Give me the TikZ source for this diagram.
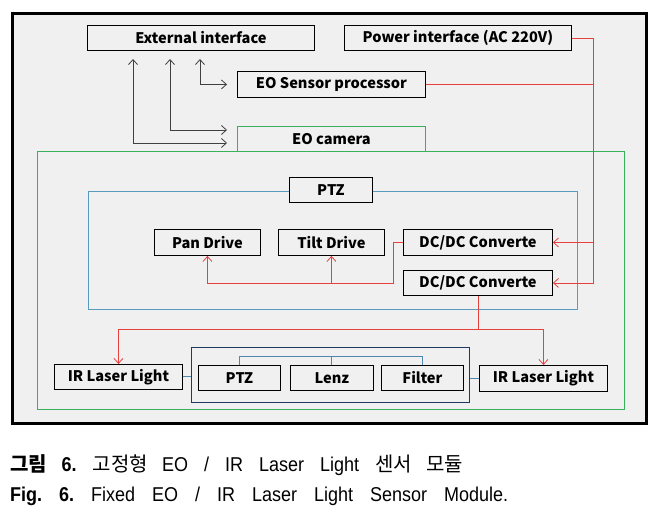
\documentclass[tikz,border=0pt]{standalone}
\usepackage{fontspec}
\usetikzlibrary{arrows.meta,calc}
\setmainfont{Liberation Sans}
\frenchspacing
\newfontfamily\cjk{Noto Sans CJK KR}
\newfontfamily\capfont[FakeStretch=0.9]{Liberation Sans}
\newfontfamily\capcjk{Noto Sans CJK KR}
\definecolor{bg}{HTML}{F0F0F0}
\definecolor{lred}{HTML}{E8403C}
\definecolor{lgreen}{HTML}{3AAF5C}
\definecolor{lblue}{HTML}{5A9CBE}
\definecolor{dblue}{HTML}{1F3864}
\definecolor{lgray}{HTML}{404040}
\tikzset{
  box/.style={draw=black, fill=bg, line width=0.9pt, inner sep=0pt, anchor=north west,
    font=\cjk\bfseries\fontsize{14.6}{16}\selectfont},
  redline/.style={draw=lred, line width=0.8pt},
  grayline/.style={draw=lgray, line width=0.8pt},
  bluecon/.style={draw=lblue!80!dblue, line width=1pt},
  tip/.style={-{Straight Barb[length=5pt,width=9pt]}},
  dtip/.style={{Straight Barb[length=5pt,width=9pt]}-{Straight Barb[length=5pt,width=9pt]}},
}
\begin{document}
\begin{tikzpicture}[x=1pt,y=-1pt]
\useasboundingbox (0,0) rectangle (665,508);
\fill[white] (0,0) rectangle (665,508);
% outer frame
\node[draw=black, fill=bg, line width=2.6pt, minimum width=634pt, minimum height=410pt, anchor=north west] (frame) at (11,12) {};
% top boxes
\node[box, minimum width=227pt, minimum height=25pt] (ext) at (87,25) {External interface};
\node[box, minimum width=227pt, minimum height=25pt] (pow) at (344,25) {Power interface (AC 220V)};
\node[box, minimum width=188pt, minimum height=26pt] (eosp) at (237,71) {EO Sensor processor};
\node[box, draw=lgreen, minimum width=188pt, minimum height=25pt] (eocam) at (237,126) {EO camera};
% big green box
\node[draw=lgreen, fill=bg, line width=0.9pt, minimum width=587pt, minimum height=258pt, anchor=north west] (green) at (37,151) {};
% PTZ region
\node[draw=lblue, line width=0.9pt, minimum width=489pt, minimum height=118pt, anchor=north west] (ptzreg) at (88,191) {};
\node[box, minimum width=83pt, minimum height=25pt] (ptz) at (289,177) {PTZ};
\node[box, minimum width=106pt, minimum height=26pt] (pan) at (154,229) {Pan Drive};
\node[box, minimum width=106pt, minimum height=26pt] (tilt) at (278,229) {Tilt Drive};
\node[box, minimum width=149pt, minimum height=26pt] (dc1) at (403,229) {DC/DC Converte};
\node[box, minimum width=149pt, minimum height=25pt] (dc2) at (403,270) {DC/DC Converte};
% bottom row
\node[box, minimum width=128pt, minimum height=25pt] (irl) at (54,364) {IR Laser Light};
\node[draw=dblue, line width=0.9pt, minimum width=278pt, minimum height=55pt, anchor=north west] (dark) at (191,347) {};
\node[box, minimum width=82pt, minimum height=25pt] (ptzs) at (198,365) {PTZ};
\node[box, minimum width=83pt, minimum height=25pt] (lenz) at (290,365) {Lenz};
\node[box, minimum width=82pt, minimum height=25pt] (filter) at (381,365) {Filter};
\node[box, minimum width=128pt, minimum height=26pt] (irr) at (479,365) {IR Laser Light};
% gray arrows
\coordinate (g1) at (133,59);
\coordinate (g2) at (170,59);
\coordinate (g3) at (200,59);
\draw[grayline, dtip] (g1) |- ([xshift=-10pt]eocam.west |- 0,143);
\draw[grayline, dtip] (g2) |- ([xshift=-10pt]eocam.west |- 0,130);
\draw[grayline, dtip] (g3) |- ([xshift=-10pt]eosp.west);
% red power lines
\coordinate (rv) at (593,37);
\draw[redline, tip] (pow.east) -| (rv |- dc2.east) -- (dc2.east);
\draw[redline, tip] (rv |- dc1.east) -- (dc1.east);
\draw[redline] (eosp.east) -- (rv |- eosp.east);
\coordinate (rb) at (393,283);
\draw[redline, tip] (dc1.west) -| (rb) -| (pan.south);
\draw[redline, tip] (tilt.south |- rb) -- (tilt.south);
\coordinate (rb2) at (478,329);
\draw[redline, tip] (dc2.south -| rb2) -- (rb2) -| (irl.north);
\draw[redline, tip] (rb2) -| (irr.north);
% blue connectors
\draw[bluecon] (irl.east) -- (irl.east -| dark.west);
\draw[bluecon] (irr.west) -- (irr.west -| dark.east);
\draw[bluecon] (ptzs.north) -- ++(0,-9) -| (filter.north);
\draw[bluecon] (lenz.north) -- ++(0,-9);
% captions
\node[anchor=base west, inner sep=0pt] (cap1) at (10,471)
  {\makebox[453pt][s]{\capcjk\fontsize{20}{22}\selectfont\bfseries 그림 \capfont 6.\mdseries\ \capcjk 고정형 \capfont EO / IR Laser Light \capcjk 센서 모듈}};
\node[anchor=base west, inner sep=0pt] (cap2) at (10,501)
  {\makebox[498pt][s]{\capfont\fontsize{20}{22}\selectfont\bfseries Fig. 6.\mdseries\ Fixed EO / IR Laser Light Sensor Module.}};
\end{tikzpicture}
\end{document}
